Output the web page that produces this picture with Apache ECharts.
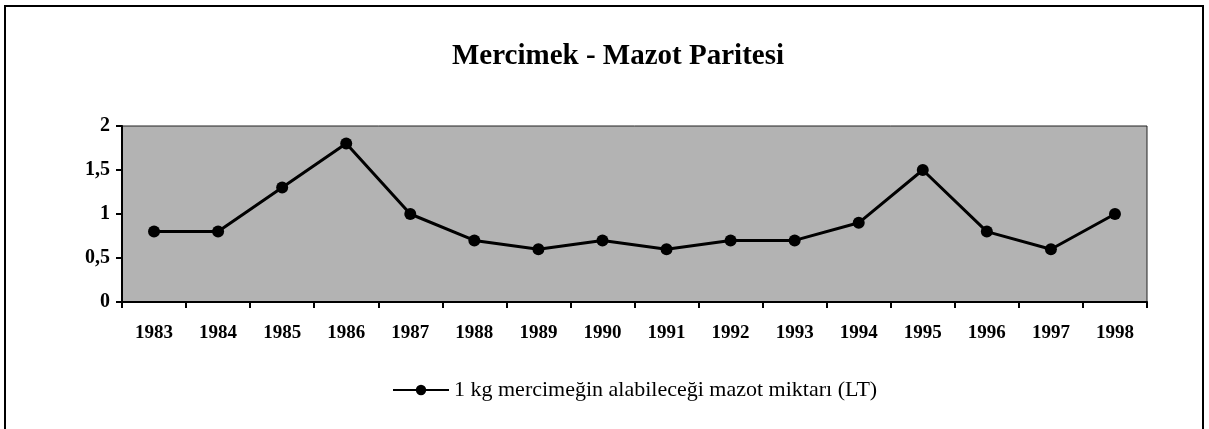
<!DOCTYPE html>
<html>
<head>
<meta charset="utf-8">
<script src="https://cdn.jsdelivr.net/npm/echarts@6/dist/echarts.min.js"></script>
<style>
html, body { margin: 0; padding: 0; background: #fff; }
#chart { width: 1209px; height: 429px; }
</style>
</head>
<body>
<div id="chart"></div>
<script>
var years = ['1983', '1984', '1985', '1986', '1987', '1988', '1989', '1990',
    '1991', '1992', '1993', '1994', '1995', '1996', '1997', '1998'];
var parite = [0.8, 0.8, 1.3, 1.8, 1.0, 0.7, 0.6, 0.7, 0.6, 0.7, 0.7, 0.9, 1.5, 0.8, 0.6, 1.0];
var seriesName = '1 kg mercimeğin alabileceği mazot miktarı (LT)';

var serif = '"Liberation Serif", "DejaVu Serif", serif';
var myChart = echarts.init(document.getElementById('chart'));

var option = {
    animation: false,
    title: {
        text: 'Mercimek - Mazot Paritesi',
        left: 447,
        top: 37,
        textStyle: {
            fontFamily: serif,
            fontSize: 29,
            fontWeight: 'bold',
            color: '#000'
        }
    },
    graphic: [{
        type: 'rect',
        shape: { x: 5, y: 6, width: 1198, height: 440 },
        style: { fill: 'none', stroke: '#000', lineWidth: 2 },
        silent: true
    }],
    legend: {
        top: 374,
        left: 387,
        itemWidth: 56,
        itemHeight: 13,
        itemGap: 3,
        textStyle: { fontFamily: serif, fontSize: 22, color: '#000' },
        data: [seriesName]
    },
    grid: {
        left: 122,
        right: 62,
        top: 126,
        bottom: 127,
        show: true,
        backgroundColor: '#b3b3b3',
        borderColor: '#222',
        borderWidth: 1
    },
    xAxis: {
        type: 'category',
        data: years,
        boundaryGap: true,
        axisLine: { lineStyle: { color: '#000', width: 2 } },
        axisTick: { show: true, inside: false, length: 6, lineStyle: { color: '#000', width: 2 } },
        axisLabel: {
            margin: 22,
            fontFamily: serif,
            fontSize: 19,
            fontWeight: 'bold',
            color: '#000'
        },
        splitLine: { show: false }
    },
    yAxis: {
        type: 'value',
        min: 0,
        max: 2,
        interval: 0.5,
        axisLine: { show: true, lineStyle: { color: '#000', width: 2 } },
        axisTick: { show: true, length: 6, lineStyle: { color: '#000', width: 2 } },
        axisLabel: {
            margin: 12,
            fontFamily: serif,
            fontSize: 20,
            fontWeight: 'bold',
            color: '#000',
            formatter: function (v) { return String(v).replace('.', ','); }
        },
        splitLine: { show: false }
    },
    series: [{
        name: seriesName,
        type: 'line',
        data: parite,
        symbol: 'circle',
        symbolSize: 12,
        lineStyle: { color: '#000', width: 3 },
        itemStyle: { color: '#000' }
    }]
};

myChart.setOption(option);
</script>
</body>
</html>
